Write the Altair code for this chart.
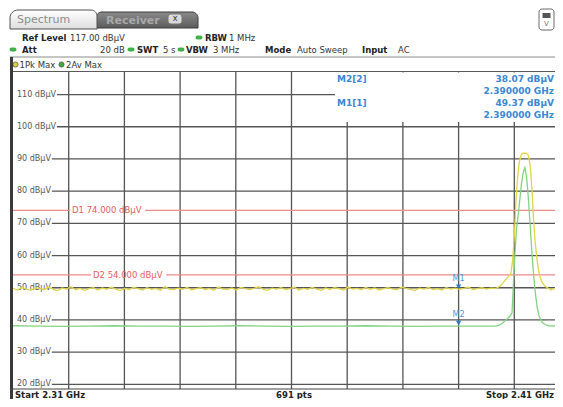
import altair as alt
import pandas as pd
import numpy as np

# ---------------- data ----------------
FREQ_START_GHZ = 2.31
FREQ_STOP_GHZ = 2.41
REF_LEVEL = 117.0
SWEEP_POINTS = 691
Y_TICKS = [110, 100, 90, 80, 70, 60, 50, 40, 30, 20]
X_GRID_GHZ = [2.32, 2.33, 2.34, 2.35, 2.36, 2.37, 2.38, 2.39, 2.40]
LIMIT_NAMES = ["D1", "D2"]
LIMIT_LEVELS = [74.0, 54.0]

# trace 1 (Pk Max, yellow) - noise floor swept from 2.3100 to 2.3966 GHz
PK_BASE_RANGE = [2.3100, 2.3966]
PK_BASE_LEVELS = [
    49.8, 49.3, 50.1, 49.6, 49.2, 50.0, 49.7, 49.4, 50.2, 49.5,
    49.1, 49.9, 49.6, 50.3, 49.4, 49.8, 49.2, 49.7, 50.0, 49.3,
    49.9, 49.5, 50.2, 49.6, 49.1, 49.8, 49.4, 50.1, 49.7, 49.3,
    50.0, 49.5, 49.8, 49.2, 50.3, 49.6, 49.4, 49.9, 49.5, 50.1,
    49.3, 49.7, 50.0, 49.4, 49.8, 49.2, 50.2, 49.6, 49.5, 49.9,
    49.3, 50.1, 49.7, 49.4, 49.8, 50.3, 49.5, 49.2, 49.9, 49.6,
    50.0, 49.4, 49.7, 50.2, 49.3, 49.8, 49.5, 50.1, 49.6, 49.2,
    49.9, 49.5, 50.0, 49.7, 49.3, 50.2, 49.6, 49.8, 49.4, 50.1,
    49.5, 49.9, 49.3, 49.7, 50.0, 49.6, 49.4, 50.2, 49.8, 49.5,
    49.2, 49.9, 49.6, 50.1, 49.4, 49.7, 49.3, 50.0, 49.6, 49.9,
    49.5, 49.8, 50.2, 49.4, 49.7, 50.0, 49.6, 49.9, 49.8,
]
PK_PEAK_FREQ = [2.3970, 2.3975, 2.3980, 2.3985, 2.3990, 2.3994, 2.3997, 2.4000,
                2.4003, 2.4006, 2.4009, 2.4012, 2.4014, 2.4018, 2.4022, 2.4025,
                2.4027, 2.4029, 2.4032, 2.4034, 2.4037, 2.4040, 2.4043, 2.4046,
                2.4050, 2.4055, 2.4060, 2.4066, 2.4072, 2.4078, 2.4084, 2.4090]
PK_PEAK_LEVELS = [50.0, 50.6, 51.5, 52.6, 53.6, 54.6, 58.5, 66.0,
                  77.0, 84.5, 89.0, 91.0, 91.7, 91.8, 91.7, 91.2,
                  89.5, 87.0, 80.0, 73.0, 65.0, 59.8, 56.0, 53.4,
                  51.6, 50.5, 49.9, 49.4, 49.8, 49.3, 49.7, 49.5]

# trace 2 (Av Max, green)
AV_BASE_RANGE = [2.3100, 2.3960]
AV_BASE_LEVELS = [38.2, 38.1, 38.0, 38.1, 38.2, 38.1, 38.1, 38.0, 38.1, 38.2,
                  38.1, 38.0, 38.1, 38.1, 38.2, 38.1, 38.0, 38.1, 38.07, 38.1]
AV_PEAK_FREQ = [2.3966, 2.3972, 2.3978, 2.3984, 2.3989, 2.3993, 2.3996, 2.3998,
                2.4001, 2.4004, 2.4007, 2.4010, 2.4013, 2.4016, 2.4019, 2.4022,
                2.4025, 2.4028, 2.4031, 2.4034, 2.4037, 2.4041, 2.4045, 2.4050,
                2.4056, 2.4062, 2.4070, 2.4080, 2.4090]
AV_PEAK_LEVELS = [38.1, 38.3, 38.9, 39.8, 40.6, 41.3, 42.3, 50.0,
                  60.0, 68.5, 72.5, 77.5, 82.5, 85.8, 87.3, 84.5,
                  78.4, 70.5, 62.5, 55.5, 49.5, 44.0, 41.0, 39.2,
                  38.5, 38.2, 38.1, 38.2, 38.1]

MARKER_NAMES = ["M1", "M2"]
MARKER_TRACE = [1, 2]
MARKER_FREQ = [2.39, 2.39]
MARKER_LEVELS = [49.37, 38.07]

# ---------------- layout ----------------
FONT = "DejaVu Sans"
OX, OY = 13, 72          # page position of the plot origin
FULL_W, FULL_H = 557, 322  # instrument grid size (10 div x 10 div)
W, H = 542, 317          # visible part that fits the page
RIGHT = OX + W           # 555
BLUE = "#3a87d2"
RED_LINE = "#f08a8a"
RED_TXT = "#e85a5a"
YELLOW = "#e2d546"
GREEN = "#84d384"
GRID = "#555555"

x_scale = alt.Scale(domain=[FREQ_START_GHZ, FREQ_START_GHZ + (FREQ_STOP_GHZ - FREQ_START_GHZ) * W / FULL_W],
                    zero=False, nice=False)
y_scale = alt.Scale(domain=[REF_LEVEL - 100.0 * H / FULL_H, REF_LEVEL], zero=False, nice=False)
ONE = pd.DataFrame({"k": [0]})


def X(v):
    return alt.X(v, scale=x_scale, axis=None)


def Y(v):
    return alt.Y(v, scale=y_scale, axis=None)


def text(t, px, py, size=8.5, weight="normal", color="#222222", align="left"):
    return alt.Chart(ONE).mark_text(align=align, baseline="middle", font=FONT, fontSize=size,
                                    fontWeight=weight, color=color).encode(
        x=alt.value(px - OX), y=alt.value(py - OY), text=alt.value(t))


def box(x1, x2, y1, y2, fill, stroke=None, sw=1.0, **kw):
    props = dict(fill=fill, **kw)
    if stroke:
        props.update(stroke=stroke, strokeWidth=sw)
    return alt.Chart(ONE).mark_rect(**props).encode(
        x=alt.value(x1 - OX), x2=alt.value(x2 - OX), y=alt.value(y1 - OY), y2=alt.value(y2 - OY))


def hline(py, x1, x2, color, sw=1.0):
    return alt.Chart(ONE).mark_rule(color=color, strokeWidth=sw).encode(
        x=alt.value(x1 - OX), x2=alt.value(x2 - OX), y=alt.value(py - OY))


def vline(px, y1, y2, color, sw=1.0):
    return alt.Chart(ONE).mark_rule(color=color, strokeWidth=sw).encode(
        x=alt.value(px - OX), y=alt.value(y1 - OY), y2=alt.value(y2 - OY))


def dot(px, py, fill, stroke=None, size=22):
    props = dict(filled=True, shape="circle", size=size, color=fill, opacity=1)
    if stroke:
        props.update(stroke=stroke, strokeWidth=0.8)
    return alt.Chart(ONE).mark_point(**props).encode(x=alt.value(px - OX), y=alt.value(py - OY))


def pill(px, py, fill):
    return box(px - 3.5, px + 3.5, py - 2, py + 2, fill, cornerRadius=2)


def em_width(s, size):
    w = {c: 0.636 for c in "0123456789"}
    w.update({" ": 0.318, "d": 0.635, "B": 0.686, "µ": 0.636, "V": 0.684, ".": 0.318, "D": 0.77})
    return sum(w.get(c, 0.62) for c in s) * size


layers = []

# ---- header: tabs ----
tab_light = alt.Gradient(gradient="linear", x1=0, x2=0, y1=0, y2=1,
                         stops=[alt.GradientStop(color="#ffffff", offset=0),
                                alt.GradientStop(color="#dedede", offset=1)])
tab_dark = alt.Gradient(gradient="linear", x1=0, x2=0, y1=0, y2=1,
                        stops=[alt.GradientStop(color="#8a8a8a", offset=0),
                               alt.GradientStop(color="#5c5c5c", offset=1)])
layers += [
    box(96, 198, 12, 28, tab_dark, stroke="#3a3a3a", cornerRadiusTopLeft=6, cornerRadiusTopRight=6),
    text("Receiver", 106, 20.5, size=11, weight="bold", color="#a8a8a8"),
    box(168, 182, 14, 24, "#d9d9d9", stroke="#777777", cornerRadius=3),
    text("x", 175, 18.5, size=8, color="#333333", align="center"),
    box(10, 97, 10, 29, tab_light, stroke="#505050", cornerRadiusTopLeft=8, cornerRadiusTopRight=6),
    text("Spectrum", 17, 19.5, size=11, color="#8c8c8c"),
    box(539, 554, 9, 30, "#ffffff", stroke="#6a6a6a", cornerRadius=3),
    box(542.5, 550.5, 13, 18, "#555555"),
    text("V", 546.5, 24, size=7, color="#777777", align="center"),
]

# ---- header: settings rows ----
DOT_GREEN = "#3fb24a"
layers += [
    text("Ref Level", 22, 37.5, weight="bold"),
    text("117.00 dBµV", 70, 37.5, color="#333333"),
    pill(199, 37.5, DOT_GREEN),
    text("RBW", 205, 37.5, weight="bold"),
    text("1 MHz", 229, 37.5, color="#333333"),
    pill(13, 49.5, DOT_GREEN),
    text("Att", 22, 49.5, weight="bold"),
    text("20 dB", 100, 49.5, color="#333333"),
    pill(131, 49.5, DOT_GREEN),
    text("SWT", 137, 49.5, weight="bold"),
    text("5 s", 163, 49.5, color="#333333"),
    pill(181, 49.5, DOT_GREEN),
    text("VBW", 186, 49.5, weight="bold"),
    text("3 MHz", 213, 49.5, color="#333333"),
    text("Mode", 265, 49.5, weight="bold"),
    text("Auto Sweep", 297, 49.5, color="#333333"),
    text("Input", 362, 49.5, weight="bold"),
    text("AC", 398, 49.5, color="#333333"),
    hline(57, 10, RIGHT, "#8a8a8a", 1),
    dot(15.5, 64.5, "#e0cf3a", stroke="#555555", size=26),
    text("1Pk Max", 19.5, 64.5, color="#333333"),
    dot(61.5, 64.5, "#3cae3c", stroke="#555555", size=26),
    text("2Av Max", 66, 64.5, color="#333333"),
]

# ---- grid ----
grid_v = alt.Chart(pd.DataFrame({"f": X_GRID_GHZ})).mark_rule(color=GRID, strokeWidth=1.3).encode(
    x=X("f:Q"))
layers.append(grid_v)
for t in Y_TICKS:
    lab = f"{t} dBµV"
    start = 4 + em_width(lab, 8) + 1
    layers.append(alt.Chart(pd.DataFrame({"v": [t]})).mark_rule(color=GRID, strokeWidth=1.3).encode(
        y=Y("v:Q"), x=alt.value(start), x2=alt.value(W)))
ylab = pd.DataFrame({"v": Y_TICKS, "t": [f"{t} dBµV" for t in Y_TICKS]})
layers.append(alt.Chart(ylab).mark_text(align="left", baseline="middle", font=FONT, fontSize=8,
                                        color="#555555").encode(
    y=Y("v:Q"), x=alt.value(4), text="t:N"))

# frame
BOTTOM = OY + H
layers += [
    hline(71.5, 10, RIGHT, "#5a5a5a", 1),
    vline(11.5, 57, 400, "#3a3a3a", 3),
    hline(BOTTOM, 10, RIGHT, "#444444", 1.2),
]

# ---- marker readout box ----
layers.append(box(335, RIGHT, 72.5, 122, "#ffffff"))
for i, (name, tr) in enumerate(reversed(list(zip(MARKER_NAMES, MARKER_TRACE)))):
    j = len(MARKER_NAMES) - 1 - i
    yy = 78.5 + 24.5 * i
    layers += [
        text(f"{name}[{tr}]", 337, yy, size=9, weight="bold", color=BLUE),
        text(f"{MARKER_LEVELS[j]:.2f} dBµV", RIGHT - 1, yy, size=9, weight="bold", color=BLUE, align="right"),
        text(f"{MARKER_FREQ[j]:.6f} GHz", RIGHT - 1, yy + 12, size=9, weight="bold", color=BLUE, align="right"),
    ]

# ---- display lines ----
lab_x = [72, 93]
for name, lvl, lx in zip(LIMIT_NAMES, LIMIT_LEVELS, lab_x):
    lab = f"{name}  {lvl:.3f} dBµV"
    lw = em_width(lab, 8.5)
    d = pd.DataFrame({"v": [lvl]})
    layers += [
        alt.Chart(d).mark_rule(color=RED_LINE, strokeWidth=1.2).encode(
            y=Y("v:Q"), x=alt.value(0), x2=alt.value(lx - 2 - OX)),
        alt.Chart(d).mark_rule(color=RED_LINE, strokeWidth=1.2).encode(
            y=Y("v:Q"), x=alt.value(lx + lw + 1 - OX), x2=alt.value(W)),
        alt.Chart(d).mark_text(align="left", baseline="middle", font=FONT, fontSize=8.5,
                               color=RED_TXT).encode(y=Y("v:Q"), x=alt.value(lx - OX), text=alt.value(lab)),
    ]

# ---- traces ----
pk_f = list(np.linspace(PK_BASE_RANGE[0], PK_BASE_RANGE[1], len(PK_BASE_LEVELS))) + PK_PEAK_FREQ
pk_l = PK_BASE_LEVELS + PK_PEAK_LEVELS
av_f = list(np.linspace(AV_BASE_RANGE[0], AV_BASE_RANGE[1], len(AV_BASE_LEVELS))) + AV_PEAK_FREQ
av_l = AV_BASE_LEVELS + AV_PEAK_LEVELS
pk = pd.DataFrame({"f": pk_f, "v": pk_l})
av = pd.DataFrame({"f": av_f, "v": av_l})
layers += [
    alt.Chart(pk).mark_line(color=YELLOW, strokeWidth=1.3, clip=True).encode(x=X("f:Q"), y=Y("v:Q")),
    alt.Chart(av).mark_line(color=GREEN, strokeWidth=1.3, clip=True).encode(x=X("f:Q"), y=Y("v:Q")),
]

# ---- markers ----
mk = pd.DataFrame({"f": MARKER_FREQ, "v": MARKER_LEVELS, "n": MARKER_NAMES})
layers += [
    alt.Chart(mk).mark_point(shape="triangle-down", filled=True, size=28, color="#2a7cc8", opacity=1,
                             yOffset=-3).encode(x=X("f:Q"), y=Y("v:Q")),
    alt.Chart(mk).mark_text(font=FONT, fontSize=8, color="#4a97dc", baseline="middle",
                            yOffset=-11).encode(x=X("f:Q"), y=Y("v:Q"), text="n:N"),
]

# ---- bottom bar ----
BAR_Y = BOTTOM + 5.5
layers += [
    text(f"Start {FREQ_START_GHZ:.2f} GHz", 15, BAR_Y, size=8.5, weight="bold", color="#222222"),
    text(f"{SWEEP_POINTS} pts", 294, BAR_Y, size=8.5, weight="bold", color="#222222", align="center"),
    text(f"Stop {FREQ_STOP_GHZ:.2f} GHz", RIGHT - 1, BAR_Y, size=8.5, weight="bold", color="#222222",
         align="right"),
]

chart = alt.layer(*layers).properties(
    width=W, height=H,
    autosize=alt.AutoSizeParams(type="none"),
    padding={"left": 5, "top": 64, "right": 0, "bottom": 10},
    background="#ffffff",
).configure_view(stroke=None)

chart.save("out.html", embed_options={"renderer": "svg", "actions": False})
